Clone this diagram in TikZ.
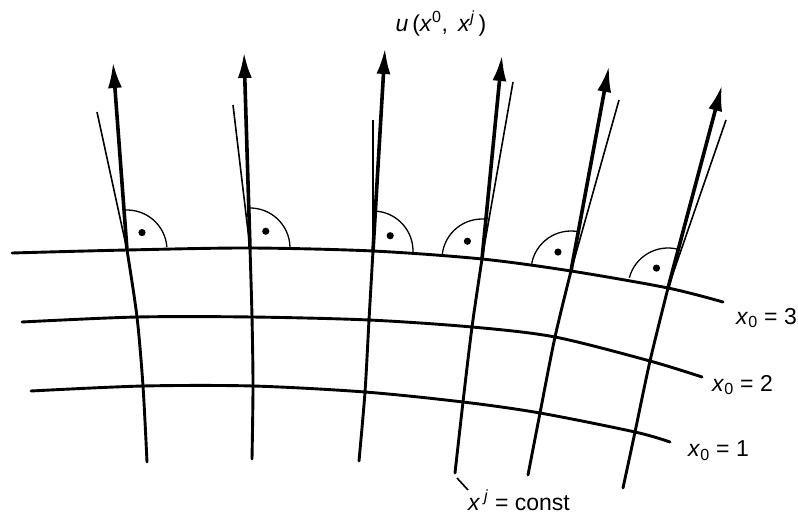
\documentclass[tikz,border=0pt]{standalone}
\usepackage{fontspec}
\setmainfont{Liberation Sans}
\usetikzlibrary{arrows.meta,calc}

\begin{document}
\begin{tikzpicture}[
    x=1pt, y=-1pt,
    grid/.style={line width=2.9pt, line cap=round},
    tail/.style={line width=1.6pt},
    vec/.style={-{Latex[length=26pt,width=14pt]}, line width=3.6pt},
    rangle/.style={line width=1.3pt},
    lbl/.style={inner sep=0pt, font=\fontsize{23}{26}\selectfont}
]
\useasboundingbox (0,0) rectangle (798,519);

% ends of the x_0 = const lines
\coordinate (l3) at (12,253);  \coordinate (r3) at (723,302);
\coordinate (l2) at (22,322);  \coordinate (r2) at (702,377);
\coordinate (l1) at (31,391);  \coordinate (r1) at (670,442);

% x^j = const lines: end, crossings with x_0 = 1, 2, 3, tail, tip of u
\coordinate (e1) at (147,462); \coordinate (b1) at (143,386); \coordinate (m1) at (137,317);
\coordinate (c1) at (127,250); \coordinate (t1) at (97,112);  \coordinate (u1) at (113,62);
\coordinate (e2) at (252,459); \coordinate (b2) at (253,386); \coordinate (m2) at (252,317);
\coordinate (c2) at (250,248); \coordinate (t2) at (233,105); \coordinate (u2) at (244,52);
\coordinate (e3) at (359,461); \coordinate (b3) at (365,392); \coordinate (m3) at (369,320);
\coordinate (c3) at (373,251); \coordinate (t3) at (373,120); \coordinate (u3) at (385,48);
\coordinate (e4) at (455,473); \coordinate (b4) at (463,402); \coordinate (m4) at (472,327);
\coordinate (c4) at (482,259); \coordinate (t4) at (513,82);  \coordinate (u4) at (502,55);
\coordinate (e5) at (528,475); \coordinate (b5) at (540,413); \coordinate (m5) at (555,337);
\coordinate (c5) at (571,271); \coordinate (t5) at (619,100); \coordinate (u5) at (609,66);
\coordinate (e6) at (623,488); \coordinate (b6) at (635,432); \coordinate (m6) at (650,361);
\coordinate (c6) at (668,288); \coordinate (t6) at (726,120); \coordinate (u6) at (722,85);

\draw[grid] plot[smooth] coordinates {(l3) (c1) (c2) (c3) (c4) (c5) (c6) (r3)};
\draw[grid] plot[smooth] coordinates {(l2) (m1) (m2) (m3) (m4) (m5) (m6) (r2)};
\draw[grid] plot[smooth] coordinates {(l1) (b1) (b2) (b3) (b4) (b5) (b6) (r1)};

\foreach \i in {1,...,6} {
    \draw[grid] plot[smooth] coordinates {(e\i) (b\i) (m\i) (c\i)};
    \draw[tail] (c\i) -- (t\i);
    \draw[vec] (c\i) -- (u\i);
}

% right angles between u and x_0 = 3
\foreach \i/\s in {1/-90,2/-90,3/-90,4/90,5/90,6/90} {
    \draw[rangle] let \p1=($(u\i)-(c\i)$), \n1={atan2(\y1,\x1)} in
        ($(c\i)+(\n1+\s:40pt)$) arc[start angle=\n1+\s, end angle=\n1, radius=40pt];
    \fill let \p1=($(u\i)-(c\i)$), \n1={atan2(\y1,\x1)} in
        ($(c\i)+(\n1+\s/2:23pt)$) circle[radius=3.6pt];
}

\node[lbl] (ulab) at (441,24) {\textit{u}\,(\textit{x}\textsuperscript{0}, \,\textit{x}\textsuperscript{\textit{j}}\,)};
\node[lbl, anchor=west] (k3) at (736,318) {\textit{x}\textsubscript{0} = 3};
\node[lbl, anchor=west] (k2) at (712,385) {\textit{x}\textsubscript{0} = 2};
\node[lbl, anchor=west] (k1) at (688,451) {\textit{x}\textsubscript{0} = 1};
\node[lbl, anchor=north west] (jlab) at (468,490) {\textit{x}\,\textsuperscript{\textit{j}} = const};
\coordinate (p1) at (457,478);
\draw[tail] (p1) -- (jlab.north west);
\end{tikzpicture}
\end{document}
